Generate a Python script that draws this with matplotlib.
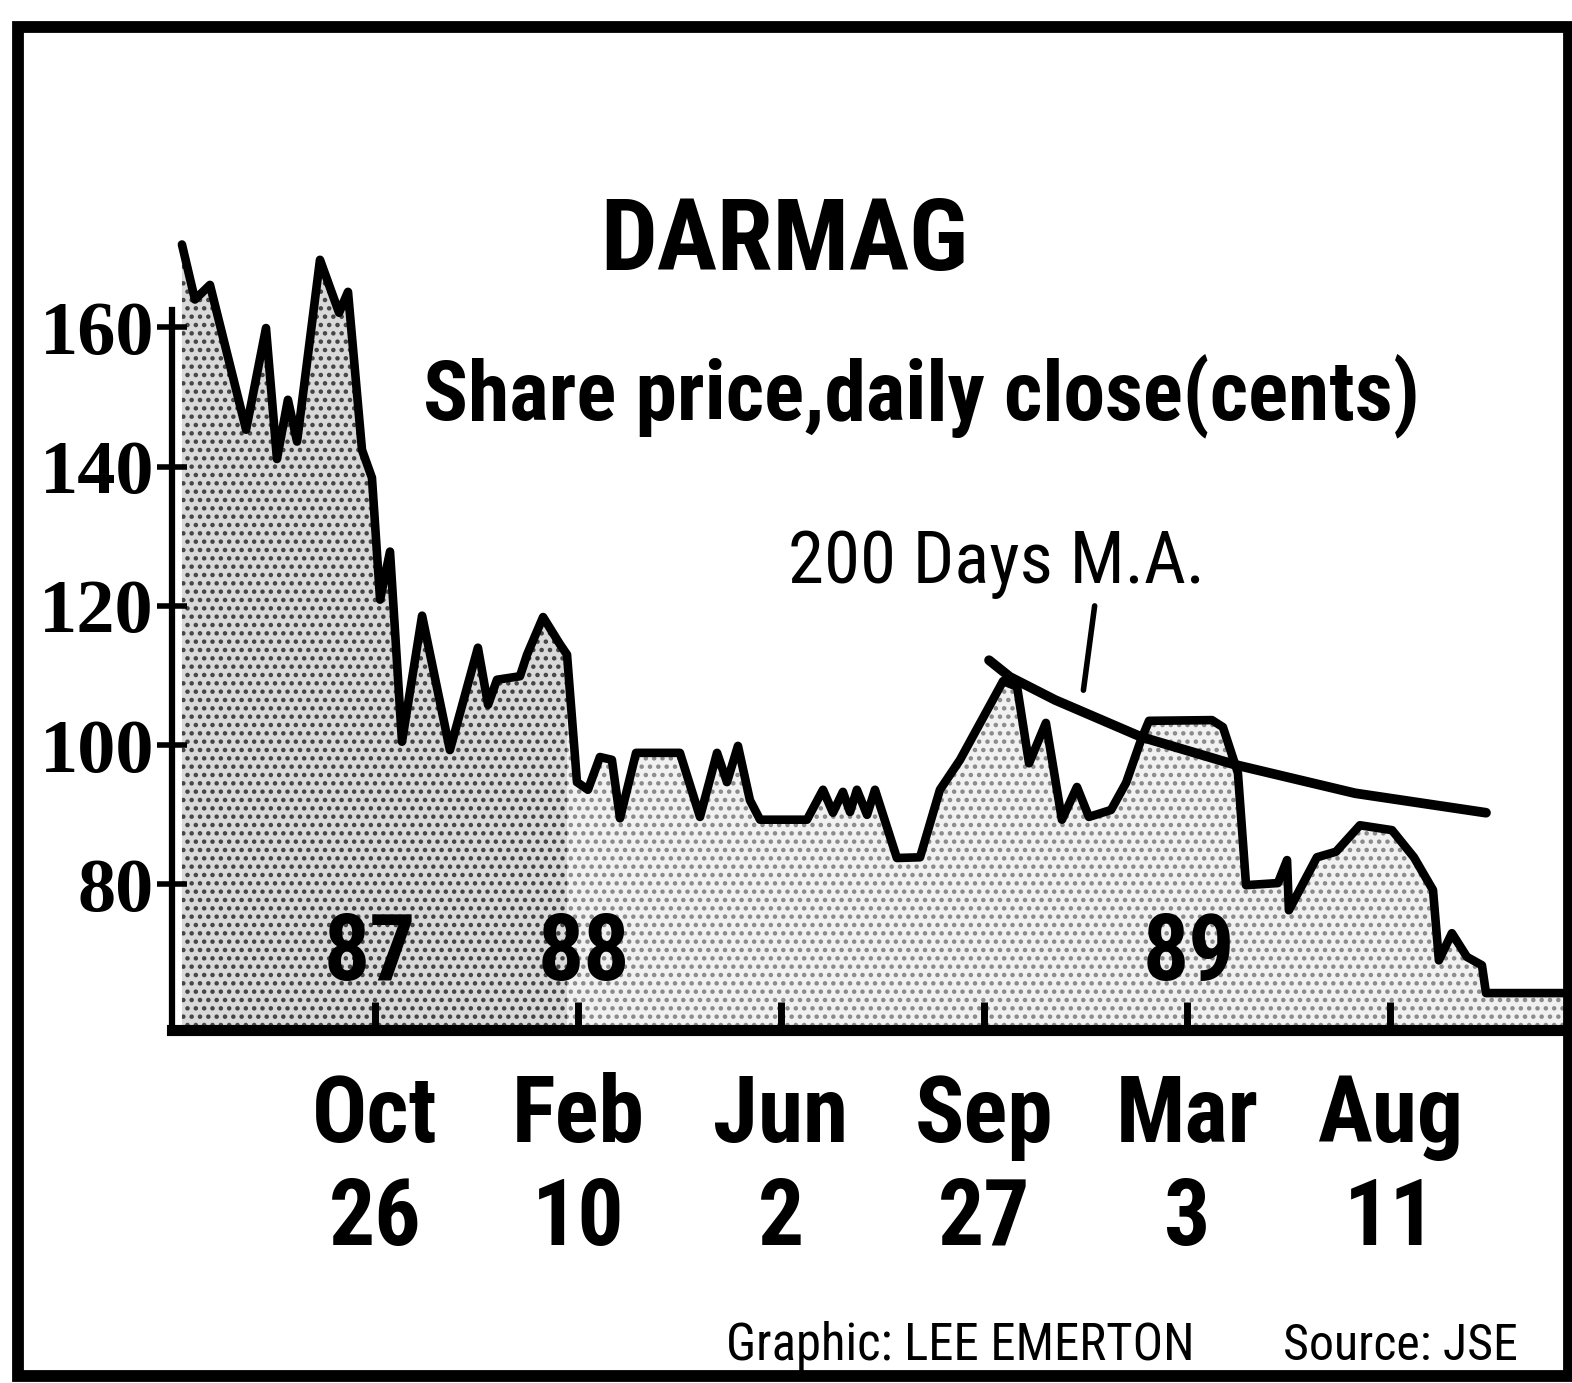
import os
import numpy as np
import matplotlib
matplotlib.use("Agg")
import matplotlib.pyplot as plt
from matplotlib import font_manager as fm
from matplotlib.font_manager import FontProperties
from matplotlib.patches import Rectangle

# ---------------- data ----------------
tick_pos = [1, 2, 3, 4, 5, 6]
tick_months = ["Oct", "Feb", "Jun", "Sep", "Mar", "Aug"]
tick_days = ["26", "10", "2", "27", "3", "11"]
year_labels = ["87", "88", "89"]
y_ticks = [80, 100, 120, 140, 160]

price_x = [0.049, 0.113, 0.187, 0.365, 0.463, 0.517, 0.571, 0.616, 0.729, 0.823,
           0.867, 0.936, 0.985, 1.025, 1.074, 1.133, 1.232, 1.369, 1.507, 1.557,
           1.601, 1.714, 1.749, 1.828, 1.911, 1.946, 1.995, 2.049, 2.108, 2.167,
           2.207, 2.286, 2.502, 2.601, 2.685, 2.734, 2.788, 2.847, 2.897, 3.128,
           3.207, 3.256, 3.305, 3.340, 3.374, 3.424, 3.463, 3.571, 3.685, 3.783,
           3.882, 4.094, 4.163, 4.222, 4.305, 4.384, 4.458, 4.517, 4.626, 4.700,
           4.773, 4.813, 5.123, 5.177, 5.251, 5.291, 5.448, 5.493, 5.502, 5.640,
           5.734, 5.852, 6.010, 6.118, 6.212, 6.241, 6.305, 6.379, 6.453, 6.473,
           6.877]
price_y = [171.9, 164.0, 166.1, 145.3, 159.9, 141.1, 149.6, 143.6, 169.7, 162.1,
           165.1, 142.4, 138.4, 120.9, 127.8, 100.5, 118.6, 99.3, 114.0, 105.8,
           109.4, 109.9, 113.0, 118.4, 114.5, 113.0, 94.7, 93.6, 98.3, 97.9,
           89.5, 98.9, 98.9, 89.7, 98.9, 94.7, 99.9, 92.1, 89.3, 89.3,
           93.6, 90.3, 93.3, 90.4, 93.6, 90.0, 93.6, 83.8, 83.9, 93.6,
           97.9, 109.2, 108.4, 97.4, 103.2, 89.3, 94.0, 89.7, 90.7, 94.6,
           100.7, 103.5, 103.6, 102.6, 96.0, 79.9, 80.2, 83.5, 76.3, 83.9,
           84.7, 88.5, 87.8, 83.9, 79.2, 69.1, 73.0, 69.6, 68.4, 64.4,
           64.4]

ma_x = [4.025, 4.128, 4.350, 4.773, 5.236, 5.828, 6.473]
ma_y = [112.2, 109.8, 106.5, 101.2, 97.2, 93.1, 90.3]


# ---------------- fonts ----------------
def _wnum(w):
    if isinstance(w, str):
        return fm.weight_dict.get(w, 400)
    try:
        return int(w)
    except Exception:
        return 400


def _width(f):
    s = (f.name + " " + os.path.basename(f.fname)).lower().replace(" ", "").replace("-", "").replace("_", "")
    if "extracondensed" in s or "ultracondensed" in s or "extcond" in s:
        return 3
    if "semicondensed" in s or "semicond" in s:
        return 1
    if "condensed" in s or "narrow" in s or "cond" in s:
        return 2
    st = str(f.stretch)
    if st in ("extra-condensed", "ultra-condensed"):
        return 3
    if st == "condensed":
        return 2
    if st == "semi-condensed":
        return 1
    return 0


def pick(prefixes, weight, max_w=3):
    best, bscore = None, None
    for f in fm.fontManager.ttflist:
        if f.style != "normal":
            continue
        n = f.name
        if not any(n.startswith(p) for p in prefixes):
            continue
        low = n.lower()
        if any(k in low for k in ("mono", "cjk", "math", "symbol", "emoji")):
            continue
        if not f.fname.lower().endswith((".ttf", ".otf")):
            continue
        w = min(_width(f), max_w)
        sc = w * 10 - abs(_wnum(f.weight) - weight) / 100.0
        if bscore is None or sc > bscore:
            best, bscore = f, sc
    return best.fname if best else None


SANS = ["Noto Sans", "DejaVu Sans", "Liberation Sans", "Roboto", "Open Sans", "Lato", "Inter"]
f_black = pick(["Roboto"], 900) or pick(SANS, 900)
f_reg = pick(["Roboto"], 400) or pick(SANS, 400)


def fp(fname, size):
    if fname:
        return FontProperties(fname=fname, size=size)
    return FontProperties(family="DejaVu Sans", weight="bold", size=size)


serif_fp = FontProperties(family=["Liberation Serif", "DejaVu Serif"], weight="bold", size=55)

# ---------------- figure ----------------
W, H = 1572, 1383
fig = plt.figure(figsize=(W / 100, H / 100), dpi=100)
fig.patch.set_facecolor("white")
renderer = fig.canvas.get_renderer()


def fit_width(t, target_px):
    bb = t.get_window_extent(renderer=renderer)
    if bb.width > 0:
        t.set_fontsize(t.get_fontsize() * target_px / bb.width)


ax_left, ax_right, ax_bot, ax_top = 172, 1568, 1030, 225
ax = fig.add_axes([ax_left / W, 1 - ax_bot / H, (ax_right - ax_left) / W, (ax_bot - ax_top) / H])
ax.set_facecolor("none")
ax.set_xlim(0, 6.877)
ax.set_ylim(59.1, 174.7)

# stippled area under the price line: dense in 1987, lighter afterwards
px_arr = np.asarray(price_x)
py_arr = np.asarray(price_y)
plt.rcParams["hatch.linewidth"] = 2.0
ax.fill_between(px_arr, py_arr, 59.1, where=px_arr >= 1.9, facecolor="#f1f1f1",
                edgecolor="#8a8a8a", hatch="..", linewidth=0, zorder=1)
ax.fill_between(px_arr, py_arr, 59.1, where=px_arr <= 1.95, facecolor="#d9d9d9",
                edgecolor="#444444", hatch="..", linewidth=0, zorder=1.5)
ax.plot(price_x, price_y, color="black", lw=6.2, solid_joinstyle="round",
        solid_capstyle="round", zorder=3)
ax.plot(ma_x, ma_y, color="black", lw=7, solid_capstyle="round", zorder=4)

for s in ("top", "right"):
    ax.spines[s].set_visible(False)
ax.spines["bottom"].set_linewidth(8)
ax.spines["left"].set_linewidth(4.5)
ax.spines["left"].set_bounds(59.1, 162.5)

ax.set_yticks(y_ticks)
ax.set_yticklabels([str(v) for v in y_ticks])
ax.tick_params(axis="y", direction="inout", length=22, width=4, pad=2)
for lab in ax.get_yticklabels():
    lab.set_fontproperties(serif_fp)

ax.set_xticks(tick_pos)
ax.set_xticklabels([f"{m}\n{d}" for m, d in zip(tick_months, tick_days)], linespacing=1.2)
ax.tick_params(axis="x", direction="in", length=20, width=5, pad=30)
for lab in ax.get_xticklabels():
    lab.set_fontproperties(fp(f_black, 66))

# year labels inside the plot
year_x = [0.975, 2.03, 5.01]
for lbl, xv in zip(year_labels, year_x):
    ax.text(xv, 66.3, lbl, ha="center", va="baseline", fontproperties=fp(f_black, 66), zorder=5)

# moving average annotation
t_ma = ax.text(4.06, 123.3, "200 Days M.A.", ha="center", va="baseline",
               fontproperties=fp(f_reg, 55), zorder=5)
fit_width(t_ma, 417)
ax.annotate("", xy=(4.488, 107.5), xytext=(4.547, 120.4),
            arrowprops=dict(arrowstyle="-", lw=4, color="black"), zorder=5)

# titles
t1 = fig.text(784 / W, 1 - 270 / H, "DARMAG", ha="center", va="baseline", fontproperties=fp(f_black, 76))
fit_width(t1, 368)
t2 = fig.text(921 / W, 1 - 420 / H, "Share price,daily close(cents)", ha="center", va="baseline",
              fontproperties=fp(f_black, 62))
fit_width(t2, 998)

# credits
t3 = fig.text(960 / W, 1 - 1360 / H, "Graphic: LEE EMERTON", ha="center", va="baseline",
              fontproperties=fp(f_reg, 48))
fit_width(t3, 470)
t4 = fig.text(1400 / W, 1 - 1360 / H, "Source: JSE", ha="center", va="baseline",
              fontproperties=fp(f_reg, 48))
fit_width(t4, 235)

# outer border
fig.add_artist(Rectangle((18 / W, 7 / H), (1569 - 18) / W, (1376 - 27) / H, transform=fig.transFigure,
                         fill=False, lw=8.5, edgecolor="black"))

fig.savefig("out.png", dpi=100)
